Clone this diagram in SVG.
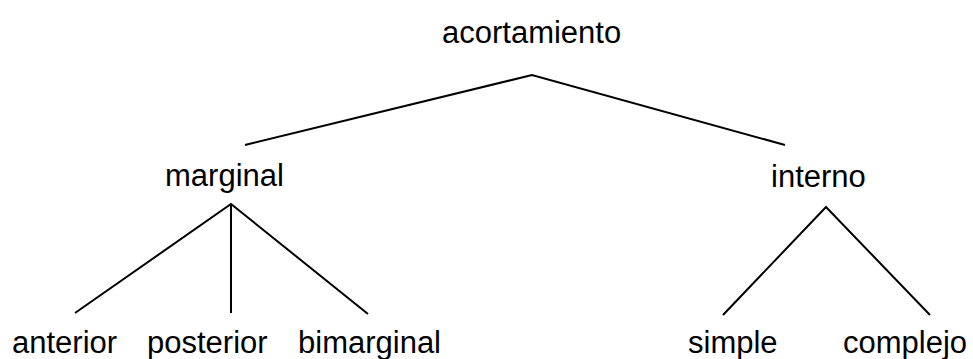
<svg xmlns="http://www.w3.org/2000/svg" width="973" height="359" viewBox="0 0 973 359">
  <style>
    .label { font-family: "Liberation Sans", Arial, sans-serif; font-size: 31px; fill: #000; }
    .edge { stroke: #000; stroke-width: 2; fill: none; stroke-linecap: butt; }
  </style>
  <rect width="973" height="359" fill="#fff"/>
  <g id="connectors">
    <path class="edge" d="M245,145 L532,75 L785,145"/>
    <path class="edge" d="M75,313 L231,204 L368,314"/>
    <path class="edge" d="M231,204 L231,313"/>
    <path class="edge" d="M723,315 L826,207 L930,315"/>
  </g>
  <g id="node-acortamiento"><text class="label" x="442" y="43">acortamiento</text></g>
  <g id="node-marginal"><text class="label" x="165" y="186">marginal</text></g>
  <g id="node-interno"><text class="label" x="771" y="187">interno</text></g>
  <g id="node-anterior"><text class="label" x="12" y="353">anterior</text></g>
  <g id="node-posterior"><text class="label" x="147" y="353">posterior</text></g>
  <g id="node-bimarginal"><text class="label" x="298" y="353">bimarginal</text></g>
  <g id="node-simple"><text class="label" x="688" y="353">simple</text></g>
  <g id="node-complejo"><text class="label" x="843" y="353">complejo</text></g>
</svg>
